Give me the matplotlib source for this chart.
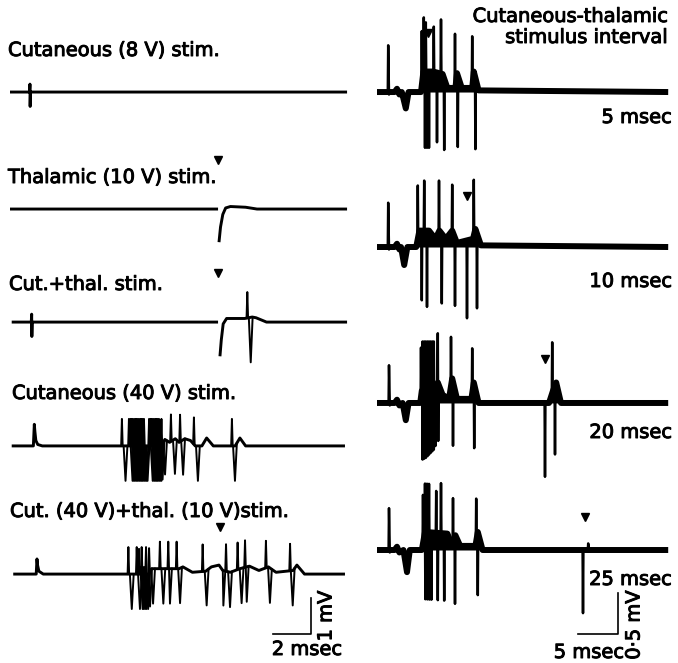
import numpy as np
import matplotlib
matplotlib.use("Agg")
import matplotlib.pyplot as plt
import matplotlib.patheffects as pe

plt.rcParams['font.family'] = ['DejaVu Sans']

W, H = 678, 663
nan = np.nan

# %% Data
# Left column: 19 px per msec, 36 px per mV
left_labels = ["Cutaneous (8 V) stim.", "Thalamic (10 V) stim.", "Cut.+thal. stim.",
               "Cutaneous (40 V) stim.", "Cut. (40 V)+thal. (10 V)stim."]
left_offsets = [15.86, 12.61, 9.47, 6.03, 2.47]   # mV, baseline of each sweep

# slow part of each sweep (msec, mV), nan = break in the trace
left_slow = [
    [(0.0, 0), (1.03, 0), (1.05, 0.22), (1.06, -0.4), (1.08, 0), (17.74, 0)],
    [(0.0, 0), (10.95, 0), (nan, nan), (11.0, -0.92), (11.08, -0.5), (11.2, -0.15),
     (11.35, 0.03), (11.6, 0.07), (12.4, 0.05), (13.0, 0), (17.74, 0)],
    [(0.09, 0), (1.12, 0), (1.14, 0.22), (1.15, -0.4), (1.17, 0), (10.95, 0), (nan, nan),
     (11.05, -0.95), (11.12, -0.5), (11.22, -0.05), (11.4, 0.1), (12.35, 0.1),
     (12.75, 0.14), (12.95, 0.12), (13.5, 0.0), (17.74, 0)],
    [(0.09, 0), (1.23, 0), (1.28, 0.6), (1.31, 0.4), (1.36, 0.15), (1.46, 0.04), (1.7, 0),
     (8.0, 0), (8.15, 0.18), (8.4, 0.1), (8.7, 0.2), (8.9, 0.1), (9.2, 0.2), (9.5, 0.15),
     (9.75, 0), (10.1, 0), (10.35, 0.22), (10.7, 0), (11.85, 0), (12.1, 0.22), (12.4, 0),
     (17.63, 0)],
    [(0.17, 0), (1.38, 0), (1.42, 0.42), (1.45, 0.25), (1.52, 0.08), (1.75, 0), (7.3, 0),
     (7.45, 0.15), (8.9, 0.15), (9.1, 0.2), (9.6, 0.05), (10.3, 0.08), (10.6, 0.2),
     (11.0, 0.25), (11.2, 0.1), (11.6, 0.05), (12.1, 0.15), (12.6, 0.22), (13.1, 0.1),
     (13.6, 0.2), (14.0, 0.05), (14.9, 0.1), (15.1, 0.25), (15.5, 0), (17.63, 0)],
]

# spikes: (time of peak, up mV, time of trough, down mV)
left_spikes = [
    [],
    [],
    [(12.49, 0.72, 12.67, 1.25)],
    [(5.89, .75, 6.08, .97), (6.26, .75, 6.45, .97), (6.33, .75, 6.52, .97),
     (6.39, .75, 6.58, .97), (6.46, .75, 6.65, .97), (6.53, .75, 6.72, .97),
     (6.60, .75, 6.79, .97), (6.66, .75, 6.85, .97), (6.73, .75, 6.92, .97),
     (6.79, .75, 6.98, .97), (6.86, .75, 7.05, .97), (6.92, .75, 7.11, .97),
     (6.99, .75, 7.18, .97), (7.05, .75, 7.24, .97), (7.32, .75, 7.51, .97),
     (7.39, .75, 7.58, .97), (7.45, .75, 7.64, .97), (7.52, .75, 7.71, .97),
     (7.58, .75, 7.77, .97), (7.65, .75, 7.84, .97), (7.71, .75, 7.90, .97),
     (7.78, .75, 7.97, .97), (7.84, .75, 8.03, .97), (7.97, .75, 8.16, .97),
     (8.47, .75, 8.68, .97), (8.95, .75, 9.11, .97), (9.68, .75, 9.89, .97),
     (11.68, .75, 11.84, .97)],
    [(6.23, .75, 6.41, .97), (6.67, .75, 6.84, .97), (6.79, .7, 6.98, .97),
     (6.86, .2, 7.04, .97), (6.93, .75, 7.11, .97), (7.0, .2, 7.18, .97),
     (7.16, .75, 7.37, .97), (7.1, .2, 7.27, .97), (7.32, .7, 7.53, .97),
     (7.89, .75, 8.07, .97), (8.33, .75, 8.42, .97), (8.77, .75, 8.95, .97),
     (10.14, .75, 10.35, .97), (11.2, 0.0, 11.23, .97), (11.37, .75, 11.58, .97),
     (11.98, .75, 12.19, .97), (12.37, .75, 12.46, .97), (13.47, .75, 13.68, .97),
     (14.74, .75, 14.88, .97)],
]
left_arrow_t = [None, 10.95, 10.95, None, 11.05]
left_arrow_h = [None, 1.36, 1.36, None, 1.31]

# Right column: 8 px per msec, 82 px per mV
right_labels = ["5 msec", "10 msec", "20 msec", "25 msec"]
right_offsets = [6.963, 5.073, 3.171, 1.378]
right_slow = [
    [(0, 0), (2.2, 0), (2.5, .04), (2.8, -.03), (3.1, 0), (3.6, -.2), (3.95, 0), (5.5, 0),
     (5.8, .25), (7.0, .25), (8.2, .22), (8.8, .05), (9.8, .05), (10.0, .23), (10.6, .05),
     (11.9, .05), (12.1, .25), (12.7, .02), (36.4, 0)],
    [(0, 0), (2.2, 0), (2.5, .04), (2.8, -.03), (3.0, 0), (3.4, -.22), (3.8, 0), (4.9, 0),
     (5.3, .2), (6.5, .2), (7.3, .1), (7.8, .2), (8.6, .1), (9.4, .2), (10.0, .05),
     (12.0, .1), (12.3, .22), (13.0, .02), (36.4, 0)],
    [(0, 0), (2.2, 0), (2.5, .04), (2.8, -.03), (3.2, 0), (3.6, -.21), (3.95, 0), (5.4, 0),
     (5.6, .15), (7.2, .15), (7.6, .25), (8.2, .1), (9.0, .05), (9.4, .3), (10.0, .05),
     (11.8, .05), (12.1, .25), (12.7, 0), (21.5, 0), (22.0, .15), (22.4, .25), (23.0, 0),
     (36.4, 0)],
    [(0, 0), (2.2, 0), (2.5, .04), (2.8, -.03), (3.3, 0), (3.75, -.27), (4.1, 0), (5.6, 0),
     (6.0, .22), (8.8, .2), (9.4, .05), (9.8, .18), (10.4, .05), (12.3, .05), (12.6, .22),
     (13.2, 0), (36.4, 0)],
]
right_spikes = [
    [(1.4, .57, 1.5, .03), (5.6, .66, 6.0, .93), (5.85, .66, 6.25, .93), (6.1, .6, 6.5, .93),
     (7.1, .55, 7.5, .85), (8.0, .66, 8.4, .87), (9.75, .66, 10.1, .87), (11.9, .63, 12.3, .87)],
    [(1.4, .54, 1.5, .03), (5.1, .65, 5.6, .85), (5.9, .61, 6.25, .93), (7.75, .62, 8.1, .85),
     (9.4, .56, 9.75, .83), (11.2, 0, 11.25, .95), (12.1, .68, 12.5, .91)],
    [(1.5, .46, 1.6, .03), (5.5, .6, 5.7, .84), (5.7, .6, 5.9, .83), (5.9, .6, 6.1, .82),
     (6.1, .6, 6.3, .8), (6.3, .6, 6.5, .78), (6.5, .6, 6.7, .76), (6.7, .6, 6.9, .74),
     (6.9, .6, 7.1, .72), (7.1, .6, 7.3, .7), (7.6, .6, 7.65, .7), (9.25, .6, 9.5, .78),
     (11.9, .55, 12.15, .78), (20.95, 0, 21.0, .9), (21.9, .62, 22.25, .84)],
    [(1.5, .51, 1.6, .03), (5.75, .59, 6.05, .82), (6.0, .59, 6.3, .82), (6.25, .59, 6.55, .82),
     (6.5, .59, 6.8, .82), (7.4, .51, 7.6, .82), (8.0, .61, 8.4, .82), (9.5, .55, 9.75, .82),
     (12.4, .52, 12.6, .77), (25.7, 0, 25.75, .77), (26.4, .08, 26.5, .02)],
]
right_arrow_t = [6.375, 11.25, 21.0, 26.0]
right_arrow_h = [0.72, 0.62, 0.54, 0.40]


def draw_sweep(ax, slow, spikes, offset, lw_base, lw_spike, wu, wd, fill=False):
    knots = np.array(slow, dtype=float)
    ax.plot(knots[:, 0], knots[:, 1] + offset, color="k", lw=lw_base,
            solid_capstyle="butt")
    good = ~np.isnan(knots[:, 0])
    kt, kv = knots[good, 0], knots[good, 1]
    if fill:
        # superimposed sweeps leave the area under the slow waves black
        ax.fill_between(kt, offset, kv + offset, color="k", lw=0)
    for tu, a, td, d in spikes:
        if td - wd > tu + wu:
            xs = np.array([tu - wu, tu, tu + wu, td - wd, td, td + wd])
            dy = np.array([0, a, 0, 0, -d, 0])
        else:
            xs = np.array([tu - wu, tu, td, td + wd])
            dy = np.array([0, a, -d, 0])
        ax.plot(xs, np.interp(xs, kt, kv) + offset + dy, color="k", lw=lw_spike)


fig = plt.figure(figsize=(W / 100, H / 100), dpi=100)

# left axes: x px = 10 + 19*t, y px from bottom = 36*mV
axL = fig.add_axes([0, 0, 1, 1])
axL.set_xlim(-10 / 19, (W - 10) / 19)
axL.set_ylim(0, H / 36)
axL.axis("off")

# right axes: x px = 377 + 8*t, y px from bottom = 82*mV
axR = fig.add_axes([0, 0, 1, 1])
axR.set_xlim(-377 / 8, (W - 377) / 8)
axR.set_ylim(0, H / 82)
axR.axis("off")
axR.patch.set_alpha(0)

for i in range(len(left_labels)):
    draw_sweep(axL, left_slow[i], left_spikes[i], left_offsets[i], 2.1, 1.4, 0.04, 0.1)
    if left_arrow_t[i] is not None:
        axL.plot(left_arrow_t[i], left_offsets[i] + left_arrow_h[i], marker="v",
                 color="k", ms=5.5, ls="none")

for i in range(len(right_labels)):
    draw_sweep(axR, right_slow[i], right_spikes[i], right_offsets[i], 4.3, 1.8, 0.05, 0.05,
               fill=True)
    axR.plot(right_arrow_t[i], right_offsets[i] + right_arrow_h[i], marker="v",
             color="k", ms=5.5, ls="none")

# scale bars
axL.plot([13.84, 15.84, 15.84], [0.806, 0.806, 1.806], color="k", lw=1.2)
axR.plot([25.1, 30.1, 30.1], [0.354, 0.354, 0.854], color="k", lw=1.2)

# texts (pixel positions -> figure fraction)
def px(x, y):
    return x / W, 1 - y / H

fs = 14
bold = [pe.withStroke(linewidth=0.7, foreground="k")]
left_label_base = [56, 183, 290, 399, 517]
left_label_x = [8, 8, 9, 12, 10]
for lab, x, y in zip(left_labels, left_label_x, left_label_base):
    fig.text(*px(x, y), lab, fontsize=fs, ha="left", va="baseline", path_effects=bold)

fig.text(*px(668, 22), "Cutaneous-thalamic", fontsize=fs, ha="right", va="baseline",
         path_effects=bold)
fig.text(*px(668, 43), "stimulus interval", fontsize=fs, ha="right", va="baseline",
         path_effects=bold)
right_label_base = [123, 287, 438, 585]
for lab, y in zip(right_labels, right_label_base):
    fig.text(*px(672, y), lab, fontsize=fs, ha="right", va="baseline", path_effects=bold)

fig.text(*px(307, 655), "2 msec", fontsize=fs, ha="center", va="baseline", path_effects=bold)
fig.text(*px(326, 616), "1 mV", fontsize=fs, ha="center", va="center", rotation=90,
         path_effects=bold)
fig.text(*px(589, 658), "5 msec", fontsize=fs, ha="center", va="baseline", path_effects=bold)
fig.text(*px(634, 625), "0\u00b75 mV", fontsize=fs, ha="center", va="center", rotation=90,
         path_effects=bold)

fig.savefig("out.png", dpi=100)
